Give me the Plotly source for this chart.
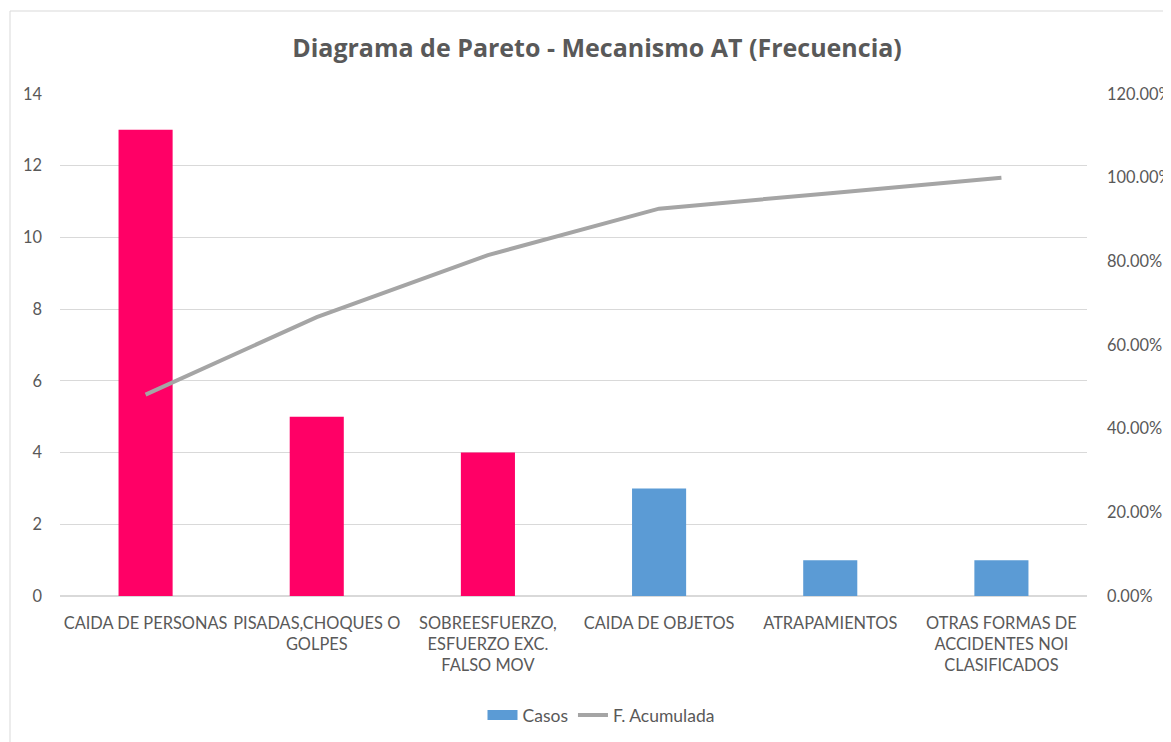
import plotly.graph_objects as go

categorias = ["CAIDA DE PERSONAS", "PISADAS,CHOQUES O<br>GOLPES",
              "SOBREESFUERZO,<br>ESFUERZO EXC.<br>FALSO MOV", "CAIDA DE OBJETOS",
              "ATRAPAMIENTOS", "OTRAS FORMAS DE<br>ACCIDENTES NOI<br>CLASIFICADOS"]
casos = [13, 5, 4, 3, 1, 1]
f_acumulada = [0.4815, 0.6667, 0.8148, 0.9259, 0.9630, 1.0]
colores_barras = ["#FF0066", "#FF0066", "#FF0066", "#5B9BD5", "#5B9BD5", "#5B9BD5"]

FONT = "Lato"
TFONT = "Open Sans"
GRAY = "#595959"

fig = go.Figure()
fig.add_trace(go.Bar(x=categorias, y=casos, marker_color=colores_barras,
                     marker_line_width=0, showlegend=False, name="Casos"))
fig.add_trace(go.Scatter(x=[None], y=[None], mode="lines",
                         line=dict(color="#5B9BD5", width=10), name="Casos"))
fig.add_trace(go.Scatter(x=categorias, y=f_acumulada, mode="lines", yaxis="y2",
                         line=dict(color="#A5A5A5", width=4), name="F. Acumulada"))

# page body has an 8px margin: work in reference pixels, shifted by OFF
OFF = 8
W, H = 1171 - OFF, 742 - OFF
L = 60 - OFF
T = 94 - OFF
R = W - (1087 - OFF)
B = H - (596 - OFF)
pw, ph = W - L - R, H - T - B

def px2paper_x(px):
    return (px - OFF - L) / pw

def px2paper_y(py):
    return (H - B - (py - OFF)) / ph

fig.update_layout(
    width=W, height=H,
    margin=dict(l=L, r=R, t=T, b=B, autoexpand=False),
    paper_bgcolor="white", plot_bgcolor="white",
    font=dict(family=FONT, color=GRAY, size=16),
    title=dict(text="<b>Diagrama de Pareto - Mecanismo AT (Frecuencia)</b>",
               x=px2paper_x(597), xanchor="center", xref="paper",
               y=1 - (48 - OFF) / H, yanchor="middle",
               font=dict(size=25, color=GRAY, family=TFONT)),
    bargap=0.684,
    xaxis=dict(showgrid=False, showline=False, ticks="outside", ticklen=12,
               tickcolor="rgba(0,0,0,0)", tickangle=0, automargin=False,
               tickfont=dict(size=16.4, color=GRAY)),
    yaxis=dict(range=[0, 14], dtick=2, showgrid=True, gridcolor="#D9D9D9", gridwidth=1,
               zeroline=True, zerolinecolor="#D9D9D9", zerolinewidth=2,
               showline=False, ticks="", ticklabelstandoff=17, automargin=False,
               tickfont=dict(size=16.4, color=GRAY)),
    yaxis2=dict(range=[0, 1.2], dtick=0.2, tickformat=".2%", overlaying="y", side="right",
                showgrid=False, zeroline=False, showline=False, ticks="", automargin=False,
                ticklabelstandoff=19, tickfont=dict(size=16.4, color=GRAY)),
    legend=dict(orientation="h", x=px2paper_x(601), xanchor="center",
                y=px2paper_y(715), yanchor="middle",
                font=dict(size=17.5, color=GRAY), traceorder="normal"),
    shapes=[dict(type="rect", xref="paper", yref="paper",
                 x0=px2paper_x(10), x1=px2paper_x(1190),
                 y0=px2paper_y(770), y1=px2paper_y(11),
                 line=dict(color="#D9D9D9", width=1), fillcolor="rgba(0,0,0,0)",
                 layer="below")],
)

fig.write_html("out.html")
